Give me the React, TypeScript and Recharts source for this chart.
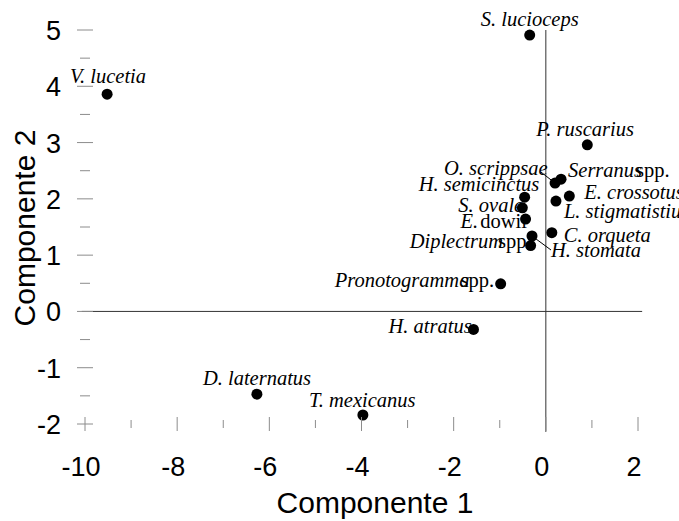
import { ScatterChart, Scatter, XAxis, YAxis, ReferenceLine } from 'recharts';

const SPECIES = [
  'S. lucioceps',
  'V. lucetia',
  'P. ruscarius',
  'Serranus spp.',
  'O. scrippsae',
  'E. crossotus',
  'L. stigmatistius',
  'H. semicinctus',
  'S. ovale',
  'E. dowii',
  'C. orqueta',
  'H. stomata',
  'Diplectrum spp.',
  'Pronotogramma spp.',
  'H. atratus',
  'D. laternatus',
  'T. mexicanus',
];
const COMP1 = [-0.35, -9.52, 0.9, 0.33, 0.2, 0.51, 0.22, -0.46, -0.51, -0.44, 0.13, -0.3, -0.33, -0.98, -1.57, -6.27, -3.97];
const COMP2 = [4.91, 3.86, 2.96, 2.35, 2.28, 2.05, 1.96, 2.03, 1.84, 1.64, 1.4, 1.34, 1.17, 0.49, -0.32, -1.47, -1.84];

const X_TICKS = [-10, -9, -8, -7, -6, -5, -4, -3, -2, -1, 0, 1, 2];
const Y_TICKS = [-2, -1.5, -1, -0.5, 0, 0.5, 1, 1.5, 2, 2.5, 3, 3.5, 4, 4.5, 5];

// where each label sits relative to its dot (text start, baseline)
const LABEL_POS: Record<string, { dx: number; dy: number; lead?: [number, number, number, number]; roman?: string; gap?: number }> = {
  'S. lucioceps': { dx: -49, dy: -9 },
  'V. lucetia': { dx: -37, dy: -11 },
  'P. ruscarius': { dx: -51, dy: -9 },
  'Serranus spp.': { dx: 7, dy: -2, roman: 'spp.', gap: -6 },
  'O. scrippsae': { dx: -111, dy: -8, lead: [-14, -11, 0, 0] },
  'E. crossotus': { dx: 15, dy: 3 },
  'L. stigmatistius': { dx: 8, dy: 17 },
  'H. semicinctus': { dx: -106, dy: -6 },
  'S. ovale': { dx: -64, dy: 4 },
  'E. dowii': { dx: -65, dy: 9, roman: 'dowii', gap: 2 },
  'C. orqueta': { dx: 12, dy: 9 },
  'H. stomata': { dx: 19, dy: 21, lead: [0, 0, 19, 14] },
  'Diplectrum spp.': { dx: -121, dy: 2, roman: 'spp.', gap: -5 },
  'Pronotogramma spp.': { dx: -166, dy: 3, roman: 'spp.', gap: -9 },
  'H. atratus': { dx: -85, dy: 4 },
  'D. laternatus': { dx: -54, dy: -9 },
  'T. mexicanus': { dx: -54, dy: -8 },
};

const SANS = '"Liberation Sans", Arial, sans-serif';
const SERIF = '"Liberation Serif", "Times New Roman", serif';
const TICK_COLOR = '#8c8c8c';

const data = SPECIES.map((name, i) => ({ name, x: COMP1[i], y: COMP2[i] }));

function SpeciesLabel(props: any) {
  const { cx, cy, payload } = props;
  const pos = LABEL_POS[payload.name];
  if (!pos) return null;
  const tx = cx + pos.dx;
  const ty = cy + pos.dy;
  let italic = payload.name;
  if (pos.roman) italic = payload.name.slice(0, payload.name.length - pos.roman.length - 1);
  return (
    <g>
      {pos.lead && (
        <line x1={cx + pos.lead[0]} y1={cy + pos.lead[1]} x2={cx + pos.lead[2]} y2={cy + pos.lead[3]} stroke="#000" strokeWidth={1} />
      )}
      <text x={tx} y={ty} fontFamily={SERIF} fontSize={20.5} fill="#000">
        <tspan fontStyle="italic">{italic}</tspan>
        {pos.roman && <tspan dx={pos.gap}>{pos.roman}</tspan>}
      </text>
    </g>
  );
}

function Dot(props: any) {
  const { cx, cy } = props;
  return <circle cx={cx} cy={cy} r={5.5} fill="#000" />;
}

function XTick(props: any) {
  const { x, y, payload } = props;
  const major = payload.value % 2 === 0;
  const h = major ? 7 : 4;
  return (
    <g>
      <line x1={x} y1={y - h} x2={x} y2={y + h} stroke={TICK_COLOR} strokeWidth={1} />
      {major && (
        <text x={x - 4} y={y + 52} textAnchor="middle" fontFamily={SANS} fontSize={27} fill="#000">
          {payload.value}
        </text>
      )}
    </g>
  );
}

function YTick(props: any) {
  const { x, y, payload } = props;
  const major = Number.isInteger(payload.value);
  const w = major ? 8 : 5;
  return (
    <g>
      <line x1={x - w} y1={y} x2={x + w} y2={y} stroke={TICK_COLOR} strokeWidth={1} />
      {major && (
        <text x={x - 24} y={y + 10} textAnchor="end" fontFamily={SANS} fontSize={27} fill="#000">
          {payload.value}
        </text>
      )}
    </g>
  );
}

export default function App() {
  return (
    <div style={{ position: 'absolute', left: 0, top: 0, background: '#fff' }}>
      <ScatterChart width={679} height={521} margin={{ top: 30, right: 41, bottom: 0, left: 0 }}>
        <XAxis
          type="number"
          dataKey="x"
          domain={[-10, 2]}
          ticks={X_TICKS}
          interval={0}
          axisLine={false}
          tickLine={false}
          tickSize={0}
          tickMargin={0}
          height={97}
          tick={<XTick />}
          label={{
            content: () => (
              <text x={375} y={513} textAnchor="middle" fontFamily={SANS} fontSize={30} fill="#000">
                Componente 1
              </text>
            ),
          }}
        />
        <YAxis
          type="number"
          dataKey="y"
          domain={[-2, 5]}
          ticks={Y_TICKS}
          interval={0}
          axisLine={false}
          tickLine={false}
          tickSize={0}
          tickMargin={0}
          width={85}
          tick={<YTick />}
          label={{
            content: () => (
              <text x={35} y={228} transform="rotate(-90, 35, 228)" textAnchor="middle" fontFamily={SANS} fontSize={30} fill="#000">
                Componente 2
              </text>
            ),
          }}
        />
        <ReferenceLine segment={[{ x: -10.07, y: 0 }, { x: 2.09, y: 0 }]} stroke="#333" strokeWidth={1} ifOverflow="visible" />
        <ReferenceLine segment={[{ x: 0, y: 5 }, { x: 0, y: -2.14 }]} stroke="#333" strokeWidth={1} ifOverflow="visible" />
        <Scatter data={data} shape={SpeciesLabel} isAnimationActive={false} />
        <Scatter data={data} shape={Dot} isAnimationActive={false} />
      </ScatterChart>
    </div>
  );
}
